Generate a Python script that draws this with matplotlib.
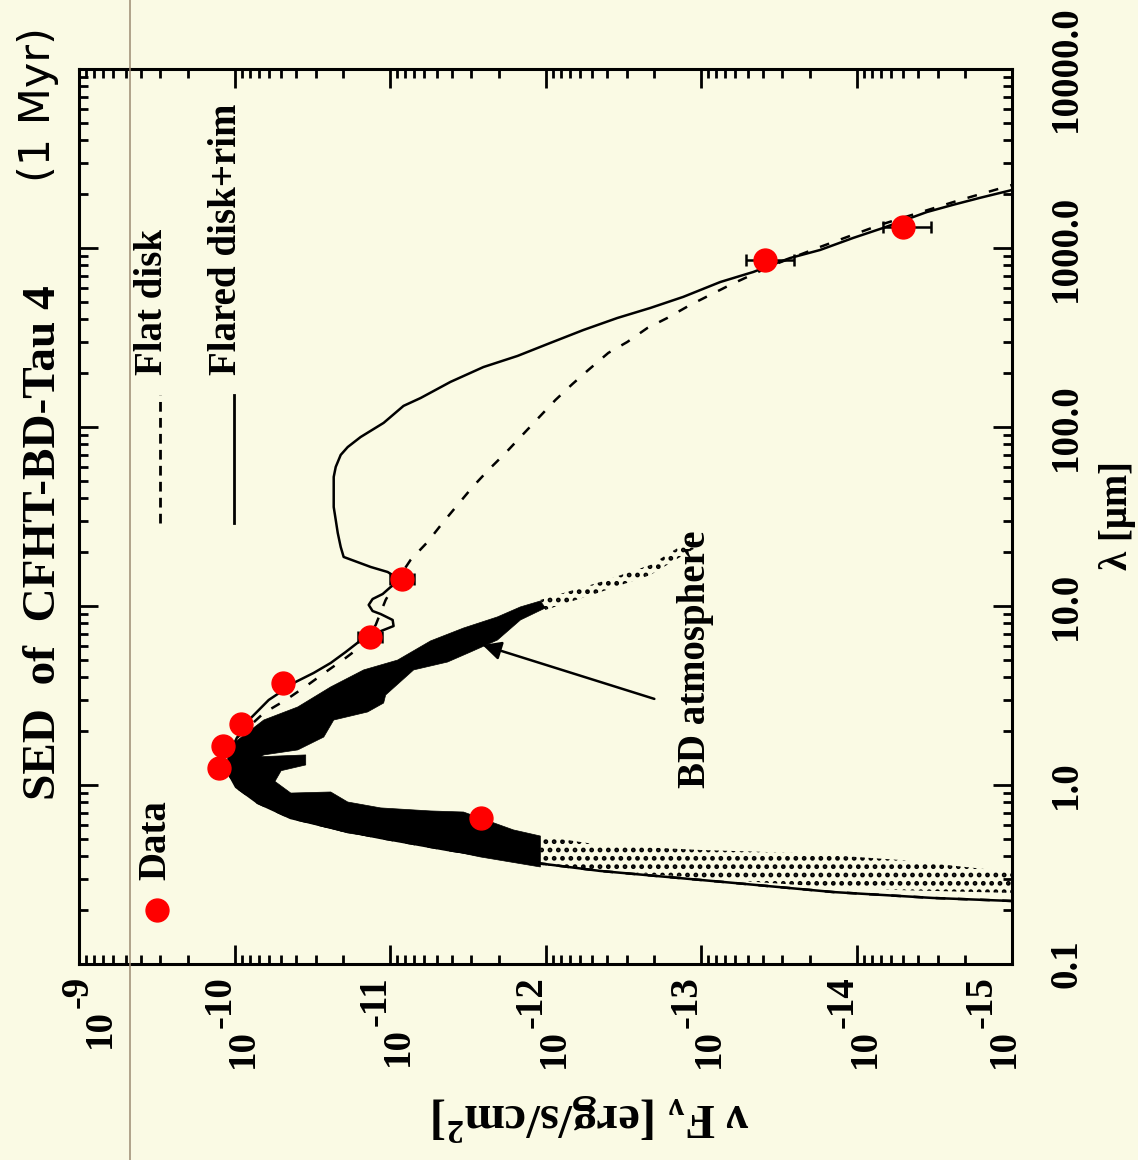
import numpy as np
import matplotlib
matplotlib.use("Agg")
import matplotlib.pyplot as plt
from matplotlib.lines import Line2D
from matplotlib.ticker import LogLocator, NullFormatter, FixedLocator
from matplotlib.transforms import offset_copy, blended_transform_factory, IdentityTransform

plt.rcParams["font.family"] = ["Liberation Serif", "DejaVu Serif"]
plt.rcParams["font.weight"] = "bold"
plt.rcParams["mathtext.fontset"] = "custom"
plt.rcParams["mathtext.rm"] = "Liberation Serif:bold"
plt.rcParams["mathtext.it"] = "Liberation Serif:bold"
plt.rcParams["mathtext.bf"] = "Liberation Serif:bold"
plt.rcParams["lines.scale_dashes"] = False
plt.rcParams["hatch.linewidth"] = 2.2

BG = "#FAFAE4"
RED = "#FF0000"
GREY = "#9C8A72"
FS = 28

# photometry: wavelength [um], nuFnu [erg/s/cm2]
data_lam = [0.65, 1.25, 1.65, 2.19, 3.7, 6.7, 14.2, 857.0, 1310.0]
data_flux = [2.6e-12, 1.26e-10, 1.19e-10, 9.1e-11, 4.9e-11, 1.35e-11, 8.4e-12, 3.86e-14, 5.0e-15]

# error bars (flux range)
err_lam = [6.7, 14.2, 857.0, 1310.0]
err_flux = [1.35e-11, 8.4e-12, 3.86e-14, 5.0e-15]
err_lo = [1.13e-11, 7.05e-12, 2.52e-14, 3.32e-15]
err_hi = [1.61e-11, 1.00e-11, 5.12e-14, 6.75e-15]

# flared disk + rim model (log10 lambda, log10 nuFnu)
solid_loglam = [-0.648, -0.631, -0.598, -0.547, -0.480, -0.419, -0.363, -0.296, -0.251, -0.184,
                -0.100, -0.011, 0.073, 0.168, 0.263, 0.374, 0.475, 0.576, 0.626, 0.682,
                0.743, 0.799, 0.838, 0.866, 0.888, 0.922, 0.955, 0.972, 1.006, 1.039,
                1.067, 1.106, 1.145, 1.190, 1.218, 1.274, 1.330, 1.408, 1.481, 1.553,
                1.721, 1.777, 1.844, 1.888, 1.944, 2.023, 2.118, 2.162, 2.252, 2.335,
                2.397, 2.470, 2.542, 2.609, 2.665, 2.727, 2.810, 2.866, 2.944, 2.989,
                3.056, 3.112, 3.201, 3.241, 3.280, 3.324]
solid_logflux = [-15.00, -14.49, -13.85, -13.21, -12.35, -11.79, -11.37, -10.94, -10.68, -10.36,
                 -10.15, -10.01, -9.957, -9.963, -10.015, -10.105, -10.220, -10.394, -10.509, -10.619,
                 -10.715, -10.798, -10.876, -10.959, -11.023, -11.017, -10.940, -10.888, -10.863, -10.888,
                 -10.953, -11.004, -11.068, -10.985, -10.876, -10.702, -10.683, -10.664, -10.651, -10.638,
                 -10.638, -10.651, -10.683, -10.728, -10.811, -10.959, -11.087, -11.197, -11.389, -11.601,
                 -11.820, -12.032, -12.244, -12.462, -12.674, -12.886, -13.124, -13.336, -13.573, -13.766,
                 -13.978, -14.171, -14.453, -14.620, -14.793, -15.00]

# flat disk model
dashed_loglam = [-0.648, -0.631, -0.598, -0.547, -0.480, -0.419, -0.363, -0.296, -0.251, -0.184,
                 -0.100, -0.011, 0.073, 0.168, 0.263, 0.402, 0.475, 0.559, 0.631, 0.710,
                 0.782, 0.894, 1.034, 1.157, 1.257, 1.358, 1.464, 1.564, 1.665, 1.760,
                 1.855, 1.956, 2.051, 2.151, 2.240, 2.319, 2.414, 2.475, 2.553, 2.609,
                 2.682, 2.794, 2.905, 3.006, 3.129, 3.190, 3.268, 3.352]
dashed_logflux = [-15.00, -14.49, -13.85, -13.21, -12.35, -11.79, -11.37, -10.94, -10.68, -10.36,
                  -10.15, -10.01, -9.957, -9.963, -10.015, -10.188, -10.330, -10.471, -10.586, -10.715,
                  -10.824, -10.908, -10.972, -11.055, -11.132, -11.242, -11.338, -11.434, -11.531, -11.633,
                  -11.743, -11.852, -11.955, -12.064, -12.173, -12.276, -12.404, -12.526, -12.655, -12.783,
                  -12.931, -13.188, -13.464, -13.766, -14.151, -14.376, -14.665, -15.00]

# BD atmosphere spectrum, outline of the dense part (long and short side of the peak)
bd_long_loglam = [0.140, 0.235, 0.363, 0.436, 0.548, 0.643, 0.698, 0.805, 0.877, 0.939, 0.995, 1.028,
                  0.989, 0.922, 0.810, 0.743, 0.687, 0.643, 0.503, 0.458, 0.408, 0.363, 0.268, 0.196,
                  0.168, 0.073]
bd_long_logflux = [-9.963, -9.996, -10.188, -10.407, -10.619, -10.831, -11.049, -11.261, -11.473, -11.691,
                   -11.839, -11.967, -11.999, -11.839, -11.691, -11.518, -11.370, -11.152, -10.972, -10.959,
                   -10.856, -10.638, -10.574, -10.407, -10.188, -10.008]
bd_short_loglam = [0.151, 0.168, 0.112, 0.080, 0.020, -0.045, -0.039, -0.095, -0.128, -0.145, -0.151,
                   -0.251, -0.285, -0.458, -0.402, -0.324, -0.268, -0.184, -0.100, -0.011, 0.073]
bd_short_logflux = [-9.963, -10.458, -10.458, -10.300, -10.260, -10.362, -10.619, -10.728, -10.940, -11.261,
                    -11.473, -11.794, -11.967, -11.967, -11.582, -11.152, -10.728, -10.362, -10.150, -10.015,
                    -9.951]
# sparse (noisy) parts of the spectrum
bd_sparse_short_loglam = [-0.285, -0.335, -0.363, -0.380, -0.419, -0.486, -0.603, -0.587, -0.559, -0.520,
                          -0.475, -0.447]
bd_sparse_short_logflux = [-11.967, -12.353, -12.995, -13.637, -14.280, -15.0, -15.0, -14.280, -13.637,
                           -12.995, -12.353, -11.967]
bd_sparse_long_loglam = [1.034, 1.134, 1.229, 1.369, 1.324, 1.173, 1.078, 0.978]
bd_sparse_long_logflux = [-11.967, -12.353, -12.674, -12.931, -12.963, -12.674, -12.353, -11.999]

# arrow pointing at the atmosphere (log10 flux, log10 lambda)
arrow_head = (-11.595, 0.782)
arrow_tail = (-12.700, 0.481)

lam_ticks = [0.1, 1.0, 10.0, 100.0, 1000.0, 10000.0]
lam_labels = ["0.1", "1.0", "10.0", "100.0", "1000.0", "10000.0"]
flux_exps = [9, 10, 11, 12, 13, 14, 15]
label_shift = {9: 13, 15: -16}

p10 = lambda a: np.power(10.0, np.asarray(a))

fig = plt.figure(figsize=(11.38, 11.60), dpi=100, facecolor=BG)
ax = fig.add_axes([79 / 1138, 1 - 964 / 1160, 933 / 1138, 895 / 1160])
ax.set_facecolor(BG)
ax.set_xscale("log")
ax.set_yscale("log")
ax.set_xlim(1e-9, 1e-15)
ax.set_ylim(0.1, 1e4)

# atmosphere
ax.fill(p10(bd_long_logflux), p10(bd_long_loglam), color="black", lw=0.5, zorder=2)
ax.fill(p10(bd_short_logflux), p10(bd_short_loglam), color="black", lw=0.5, zorder=2)
ax.fill(p10(bd_sparse_short_logflux), p10(bd_sparse_short_loglam), facecolor="none",
        edgecolor="black", hatch="..", lw=0, zorder=2)
ax.fill(p10(bd_sparse_long_logflux), p10(bd_sparse_long_loglam), facecolor="none",
        edgecolor="black", hatch="..", lw=0, zorder=2)

# models
ax.plot(p10(solid_logflux), p10(solid_loglam), color="black", lw=1.8, zorder=3)
ax.plot(p10(dashed_logflux), p10(dashed_loglam), color="black", lw=1.8, dashes=(7, 9), zorder=3)

# data
ef = np.array(err_flux)
ax.errorbar(ef, err_lam, xerr=[ef - np.array(err_lo), np.array(err_hi) - ef], fmt="none",
            ecolor="black", elinewidth=1.8, capsize=4, capthick=1.8, zorder=3)
ax.plot(data_flux, data_lam, "o", color=RED, ms=16.5, mec=RED, zorder=4)

ax.annotate("", xy=p10(arrow_head), xytext=p10(arrow_tail),
            arrowprops=dict(arrowstyle="-|>", color="black", lw=1.8, mutation_scale=28,
                            shrinkA=0, shrinkB=0), zorder=4)
ax.text(0.671, 0.1966, "BD atmosphere", transform=ax.transAxes, rotation=90,
        rotation_mode="anchor", ha="left", va="baseline", fontsize=FS)

# legend drawn by hand
ax.plot([0.0868, 0.0868], [0.4927, 0.6358], transform=ax.transAxes, color="black", lw=2,
        dashes=(7, 4.5))
ax.plot([0.1661, 0.1661], [0.4927, 0.6358], transform=ax.transAxes, color="black", lw=2)
ax.plot([0.0836], [0.0603], "o", transform=ax.transAxes, color=RED, ms=16.5, clip_on=False)
for xa, ya, s in [(0.0890, 0.6581, "Flat disk"), (0.1683, 0.6581, "Flared disk+rim"),
                  (0.0922, 0.0939, "Data")]:
    ax.text(xa, ya, s, transform=ax.transAxes, rotation=90, rotation_mode="anchor",
            ha="left", va="baseline", fontsize=FS)

# ticks
ax.xaxis.set_major_locator(FixedLocator([10.0 ** -k for k in flux_exps]))
ax.xaxis.set_minor_locator(LogLocator(base=10, subs=np.arange(2, 10), numticks=60))
ax.yaxis.set_major_locator(FixedLocator(lam_ticks))
ax.yaxis.set_minor_locator(LogLocator(base=10, subs=np.arange(2, 10), numticks=60))
for axis in (ax.xaxis, ax.yaxis):
    axis.set_minor_formatter(NullFormatter())
    axis.set_major_formatter(NullFormatter())
ax.tick_params(which="both", direction="in", top=True, right=True, bottom=True, left=True,
               width=2.0, labelbottom=False, labelleft=False)
ax.tick_params(which="major", length=13.7)
ax.tick_params(which="minor", length=6.5)
for sp in ax.spines.values():
    sp.set_linewidth(2.2)

# wavelength labels on the right
for v, s in zip(lam_ticks, lam_labels):
    ax.text(1, v, s, transform=offset_copy(ax.get_yaxis_transform(), fig=fig, x=64, y=0, units="dots"),
            rotation=90, rotation_mode="anchor", ha="center", va="baseline", fontsize=FS)

# flux labels at the bottom: "10" followed by an exponent of the same size
renderer = fig.canvas.get_renderer()
for k in flux_exps:
    sh = label_shift.get(k, 0)
    xv = 10.0 ** -k
    t_exp = ax.text(xv, 0, "-%d" % k,
                    transform=offset_copy(ax.get_xaxis_transform(), fig=fig, x=-4 + sh, y=-12, units="dots"),
                    rotation=90, rotation_mode="anchor", ha="right", va="baseline", fontsize=FS)
    bb = t_exp.get_window_extent(renderer)
    tr = blended_transform_factory(ax.transData, IdentityTransform())
    ax.text(xv, bb.y0 - 1, "10", transform=offset_copy(tr, fig=fig, x=18 + sh, y=0, units="dots"),
            rotation=90, rotation_mode="anchor", ha="right", va="baseline", fontsize=FS)

# axis titles
fig.text(1118 / 1138, 1 - 516 / 1160, "λ [μm]", rotation=90, rotation_mode="anchor",
         ha="center", va="center", fontsize=FS)
fig.text(590 / 1138, 1 - 1117 / 1160, r"ν F$_ν$ [erg/s/cm$^2$]", rotation=180,
         rotation_mode="anchor", ha="center", va="center", fontsize=35)

# title
fig.text(55 / 1138, 1 - 800 / 1160, "SED  of  CFHT-BD-Tau 4", rotation=90, rotation_mode="anchor",
         ha="left", va="baseline", fontsize=34)
fig.text(50 / 1138, 1 - 182 / 1160, "(1 Myr)", rotation=90, rotation_mode="anchor",
         ha="left", va="baseline", fontsize=31, family="DejaVu Sans", weight="normal")

# thin grey page line crossing the whole picture, drawn last and on top
fig.add_artist(Line2D([129.5 / 1138, 129.5 / 1138], [0, 1], transform=fig.transFigure,
                      color=GREY, lw=1.1, zorder=10))

fig.savefig("out.png", dpi=100, facecolor=BG)
